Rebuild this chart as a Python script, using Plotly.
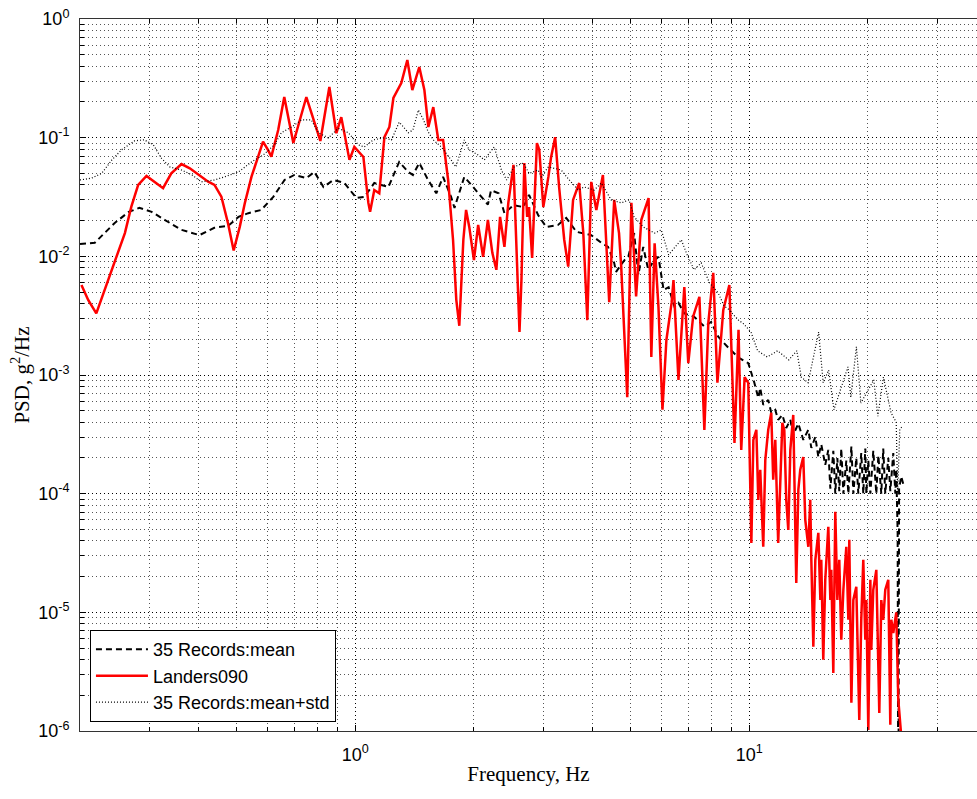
import numpy as np
import plotly.graph_objects as go

# ---- 35-record ensemble: mean PSD ----
mean_freq = [0.200, 0.218, 0.245, 0.266, 0.283, 0.304, 0.328, 0.362, 0.402, 0.4385,
             0.476, 0.505, 0.535, 0.577, 0.619, 0.661, 0.700, 0.751, 0.787, 0.830,
             0.880, 0.938, 1.006, 1.054, 1.117, 1.213, 1.292, 1.363, 1.400, 1.453,
             1.530, 1.605, 1.670, 1.750, 1.785, 1.890, 1.990, 2.090, 2.170, 2.210,
             2.310, 2.390, 2.520, 2.670, 2.760, 2.910, 3.050, 3.270, 3.430, 3.640,
             3.970, 4.210, 4.380, 4.540, 4.590, 4.820, 4.930, 5.100, 5.230, 5.380,
             5.540, 5.700, 5.880, 6.060, 6.240, 6.460, 6.610, 6.840, 7.240, 7.690,
             8.000, 8.340, 8.840, 9.390, 9.940, 10.30, 10.54, 10.66, 10.85, 11.17,
             11.37, 11.64, 11.84, 12.13, 12.41, 12.71, 12.93, 13.32, 13.71, 14.12,
             14.37, 14.71, 14.97, 15.23, 15.59, 15.87, 16.06, 16.34, 16.53, 16.73,
             16.92, 17.12, 17.33, 17.63, 17.84, 18.16, 18.37, 18.69, 18.91, 19.24,
             19.47, 19.70, 19.82, 20.05, 20.29, 20.64, 21.01, 21.26, 21.63, 21.88,
             22.14, 22.53, 22.80, 23.20, 23.48, 23.61, 23.80, 23.86, 23.93, 24.00,
             24.30, 24.60]
mean_psd = [1.27e-2, 1.30e-2, 1.91e-2, 2.37e-2, 2.56e-2, 2.37e-2, 2.03e-2, 1.67e-2, 1.51e-2, 1.74e-2,
            1.81e-2, 2.15e-2, 2.31e-2, 2.46e-2, 3.17e-2, 4.40e-2, 4.85e-2, 4.56e-2, 5.14e-2, 3.84e-2,
            4.40e-2, 4.15e-2, 3.10e-2, 3.17e-2, 4.15e-2, 3.84e-2, 6.24e-2, 5.14e-2, 4.85e-2, 6.12e-2,
            4.40e-2, 3.40e-2, 4.67e-2, 3.17e-2, 2.56e-2, 4.67e-2, 3.84e-2, 3.17e-2, 2.73e-2, 3.60e-2,
            3.40e-2, 2.31e-2, 2.70e-2, 2.60e-2, 3.30e-2, 2.23e-2, 1.77e-2, 1.84e-2, 2.11e-2, 1.61e-2,
            1.51e-2, 1.30e-2, 1.20e-2, 8.80e-3, 7.40e-3, 9.30e-3, 9.90e-3, 1.57e-2, 7.00e-3, 1.20e-2,
            7.70e-3, 9.00e-3, 9.90e-3, 5.20e-3, 5.50e-3, 3.75e-3, 4.05e-3, 3.30e-3, 3.10e-3, 2.56e-3,
            2.80e-3, 2.10e-3, 1.70e-3, 1.40e-3, 1.26e-3, 8.60e-4, 6.40e-4, 7.78e-4, 5.60e-4, 6.17e-4,
            4.80e-4, 5.08e-4, 4.19e-4, 4.61e-4, 3.58e-4, 4.19e-4, 3.13e-4, 3.90e-4, 2.84e-4, 3.45e-4,
            2.43e-4, 3.01e-4, 2.04e-4, 2.60e-4, 1.75e-4, 2.34e-4, 1.10e-4, 2.30e-4, 1.00e-4, 2.00e-4,
            1.05e-4, 2.40e-4, 1.00e-4, 1.90e-4, 1.00e-4, 2.50e-4, 1.00e-4, 2.00e-4, 1.00e-4, 2.20e-4,
            1.00e-4, 2.40e-4, 1.00e-4, 1.90e-4, 1.00e-4, 2.30e-4, 1.00e-4, 2.10e-4, 1.00e-4, 2.40e-4,
            1.00e-4, 2.00e-4, 1.05e-4, 2.20e-4, 1.00e-4, 1.60e-4, 4.60e-5, 8.00e-7, 8.00e-7, 1.10e-4,
            1.40e-4, 1.20e-4]

# ---- Landers 1992, component 090 ----
landers_freq = [0.2017, 0.2098, 0.220, 0.231, 0.245, 0.260, 0.270, 0.281, 0.295, 0.3095,
                0.325, 0.341, 0.362, 0.380, 0.3995, 0.423, 0.439, 0.457, 0.475, 0.491,
                0.509, 0.524, 0.545, 0.566, 0.583, 0.600, 0.612, 0.637, 0.660, 0.696,
                0.751, 0.815, 0.859, 0.895, 0.921, 0.966, 0.994, 1.048, 1.079, 1.090,
                1.117, 1.150, 1.185, 1.220, 1.249, 1.308, 1.355, 1.395, 1.453, 1.497,
                1.532, 1.577, 1.624, 1.670, 1.720, 1.770, 1.804, 1.836, 1.880, 1.910,
                1.946, 2.000, 2.050, 2.110, 2.170, 2.227, 2.280, 2.330, 2.390, 2.445,
                2.520, 2.560, 2.610, 2.640, 2.685, 2.730, 2.760, 2.810, 2.890, 2.930,
                3.000, 3.090, 3.140, 3.215, 3.290, 3.390, 3.470, 3.570, 3.700, 3.790,
                3.880, 3.970, 4.090, 4.250, 4.330, 4.410, 4.540, 4.670, 4.730, 4.900,
                5.020, 5.160, 5.320, 5.550, 5.640, 5.750, 5.880, 6.020, 6.160, 6.350,
                6.420, 6.610, 6.840, 7.000, 7.200, 7.470, 7.690, 7.870, 8.100, 8.300,
                8.590, 8.900, 9.170, 9.390, 9.540, 9.730, 9.940,
                10.12, 10.24, 10.42, 10.54, 10.66, 10.85, 10.98, 11.17, 11.37, 11.50,
                11.64, 11.84, 11.99, 12.13, 12.27, 12.41, 12.56, 12.71, 12.93, 13.09,
                13.16, 13.32, 13.47, 13.71, 13.87, 14.12, 14.28, 14.37, 14.54, 14.71,
                14.97, 15.15, 15.23, 15.41, 15.59, 15.87, 16.06, 16.15, 16.34, 16.53,
                16.73, 16.92, 17.12, 17.33, 17.63, 17.84, 17.94, 18.16, 18.37, 18.69,
                18.91, 19.02, 19.24, 19.47, 19.70, 19.82, 20.05, 20.29, 20.40, 20.64,
                21.01, 21.26, 21.38, 21.63, 21.88, 22.14, 22.53, 22.80, 22.93, 23.20,
                23.61, 23.89, 24.31]
landers_psd = [5.74e-3, 4.29e-3, 3.31e-3, 5.21e-3, 9.33e-3, 1.57e-2, 2.62e-2, 4.00e-2, 4.76e-2, 4.26e-2,
               3.75e-2, 5.01e-2, 5.99e-2, 5.52e-2, 4.85e-2, 4.26e-2, 4.00e-2, 3.18e-2, 1.90e-2, 1.12e-2,
               1.78e-2, 2.80e-2, 4.69e-2, 6.92e-2, 9.25e-2, 7.88e-2, 6.92e-2, 1.16e-1, 2.20e-1, 9.02e-2,
               2.20e-1, 9.38e-2, 2.67e-1, 1.09e-1, 1.49e-1, 6.50e-2, 8.35e-2, 6.88e-2, 2.82e-2, 2.37e-2,
               3.62e-2, 3.40e-2, 1.01e-1, 1.23e-1, 2.16e-1, 2.89e-1, 4.51e-1, 2.52e-1, 3.94e-1, 2.52e-1,
               1.23e-1, 1.81e-1, 9.57e-2, 9.57e-2, 4.40e-2, 1.38e-2, 4.30e-3, 2.60e-3, 1.38e-2, 2.46e-2,
               1.77e-2, 9.30e-3, 1.84e-2, 9.90e-3, 2.03e-2, 1.07e-2, 7.70e-3, 2.15e-2, 1.20e-2, 2.82e-2,
               5.90e-2, 1.38e-2, 2.30e-3, 6.30e-3, 6.12e-2, 2.15e-2, 2.60e-2, 9.70e-3, 9.00e-2, 7.90e-2,
               2.60e-2, 4.67e-2, 6.88e-2, 1.01e-1, 3.84e-2, 1.38e-2, 8.20e-3, 2.99e-2, 4.15e-2, 1.57e-2,
               2.90e-3, 4.24e-2, 2.46e-2, 4.85e-2, 1.38e-2, 4.10e-3, 2.99e-2, 1.57e-2, 8.20e-3, 6.50e-4,
               2.82e-2, 4.60e-3, 2.03e-2, 3.10e-2, 1.42e-3, 1.29e-2, 3.75e-3, 5.10e-4, 1.98e-3, 4.05e-3,
               6.30e-3, 9.10e-4, 5.50e-3, 1.26e-3, 3.10e-3, 4.55e-3, 3.45e-4, 2.75e-3, 7.25e-3, 8.60e-4,
               3.53e-3, 5.74e-3, 2.68e-4, 2.40e-3, 2.34e-4, 9.60e-4, 8.60e-4,
               3.85e-5, 2.84e-4, 3.45e-4, 8.87e-5, 1.59e-4, 3.57e-5, 1.93e-4, 3.45e-4, 4.80e-4, 1.31e-4,
               2.84e-4, 3.85e-5, 1.59e-4, 3.95e-4, 3.45e-4, 8.87e-5, 4.95e-5, 2.34e-4, 4.61e-4, 6.02e-5,
               1.77e-5, 1.08e-4, 1.59e-4, 2.04e-4, 6.02e-5, 3.57e-5, 8.87e-5, 2.77e-5, 5.12e-6, 2.77e-5,
               4.67e-5, 1.27e-5, 2.77e-5, 3.98e-6, 1.88e-5, 5.25e-5, 1.27e-5, 2.28e-5, 3.09e-6, 7.03e-5,
               1.27e-5, 2.77e-5, 5.87e-6, 1.55e-5, 3.57e-5, 8.65e-6, 4.08e-5, 1.73e-6, 1.27e-5, 1.64e-5,
               3.98e-6, 1.24e-6, 8.65e-6, 2.77e-5, 5.87e-6, 1.27e-5, 1.02e-6, 1.88e-5, 4.83e-6, 1.55e-5,
               2.28e-5, 2.70e-6, 1.42e-6, 1.27e-5, 8.65e-6, 1.55e-5, 1.88e-5, 1.13e-6, 8.65e-6, 6.70e-6,
               1.00e-5, 1.83e-6, 9.00e-7]

# ---- 35-record ensemble: mean + one standard deviation ----
std_freq = [0.200, 0.214, 0.227, 0.241, 0.255, 0.275, 0.291, 0.307, 0.322, 0.338,
            0.362, 0.385, 0.4065, 0.4385, 0.465, 0.505, 0.545, 0.584, 0.623, 0.649,
            0.689, 0.7295, 0.773, 0.806, 0.854, 0.905, 0.960, 1.018, 1.054, 1.110,
            1.185, 1.235, 1.292, 1.363, 1.400, 1.445, 1.490, 1.530, 1.577, 1.653,
            1.750, 1.800, 1.890, 1.946, 2.050, 2.125, 2.250, 2.350, 2.420, 2.530,
            2.670, 2.760, 2.910, 2.965, 3.090, 3.330, 3.490, 3.680, 3.810, 4.040,
            4.210, 4.460, 4.730, 4.950, 5.100, 5.380, 5.750, 5.980, 6.240, 6.720,
            6.920, 7.240, 7.550, 7.920, 8.340, 8.640, 8.840, 9.390, 9.670, 10.10,
            10.50, 11.10, 11.80, 12.60, 13.20, 13.55, 14.10, 14.50, 15.00, 15.40,
            15.90, 16.40, 17.10, 17.80, 18.10, 18.70, 19.20, 20.00, 20.70, 21.20,
            21.90, 22.90, 23.60, 23.80, 24.10, 24.50]
std_psd = [4.40e-2, 4.56e-2, 5.00e-2, 6.50e-2, 7.90e-2, 9.40e-2, 9.60e-2, 8.70e-2, 6.70e-2, 5.67e-2,
           5.34e-2, 4.85e-2, 4.24e-2, 4.40e-2, 4.67e-2, 5.14e-2, 6.24e-2, 7.16e-2, 8.70e-2, 1.10e-1,
           1.23e-1, 1.41e-1, 1.41e-1, 1.10e-1, 9.95e-2, 1.20e-1, 1.10e-1, 8.70e-2, 8.35e-2, 9.57e-2,
           1.00e-1, 9.57e-2, 1.35e-1, 1.10e-1, 1.16e-1, 1.71e-1, 1.41e-1, 1.12e-1, 9.57e-2, 8.35e-2,
           6.50e-2, 5.67e-2, 9.57e-2, 7.87e-2, 7.16e-2, 6.50e-2, 8.35e-2, 5.30e-2, 4.40e-2, 5.67e-2,
           6.12e-2, 5.00e-2, 5.34e-2, 4.67e-2, 5.67e-2, 5.34e-2, 4.40e-2, 3.62e-2, 3.84e-2, 3.62e-2,
           4.15e-2, 2.99e-2, 2.82e-2, 2.99e-2, 2.15e-2, 1.77e-2, 1.57e-2, 1.67e-2, 1.03e-2, 1.38e-2,
           1.07e-2, 7.70e-3, 8.80e-3, 6.00e-3, 4.90e-3, 3.80e-3, 3.60e-3, 2.90e-3, 2.70e-3, 2.30e-3,
           1.60e-3, 1.42e-3, 1.60e-3, 1.34e-3, 1.60e-3, 9.60e-4, 8.60e-4, 1.34e-3, 2.30e-3, 8.60e-4,
           1.10e-3, 5.10e-4, 7.90e-4, 1.17e-3, 6.50e-4, 1.73e-3, 5.80e-4, 7.50e-4, 9.10e-4, 4.50e-4,
           9.60e-4, 4.80e-4, 4.00e-4, 1.00e-4, 3.50e-4, 3.70e-4]

# ---- axis ticks ----
y_major = [10.0 ** k for k in range(-6, 1)]
y_major_text = ["10<sup>%d</sup>" % k for k in range(-6, 1)]
x_major = [1.0, 10.0]
x_major_text = ["10<sup>0</sup>", "10<sup>1</sup>"]
x_minor = [m * 10.0 ** k for k in range(-1, 2) for m in range(2, 10)]
y_minor = [m * 10.0 ** k for k in range(-6, 0) for m in range(2, 10)]

sans = "Liberation Sans, Arial, sans-serif"
serif = "Liberation Serif, Times New Roman, serif"

fig = go.Figure()
fig.add_trace(go.Scatter(x=mean_freq, y=mean_psd, mode="lines", name="35 Records:mean",
                         line=dict(color="black", width=2, dash="6px,4px")))
fig.add_trace(go.Scatter(x=landers_freq, y=landers_psd, mode="lines", name="Landers090",
                         line=dict(color="#ff0000", width=2.5)))
fig.add_trace(go.Scatter(x=std_freq, y=std_psd, mode="lines", name="35 Records:mean+std",
                         line=dict(color="black", width=1.2, dash="1px,2px")))

grid_dash = "1px,3px"
fig.update_xaxes(
    type="log", range=[np.log10(0.2), 1.578],
    tickmode="array", tickvals=x_major, ticktext=x_major_text,
    ticks="inside", ticklen=6, tickcolor="black",
    showline=True, linecolor="#333333", linewidth=1, mirror="ticks",
    showgrid=True, gridcolor="black", gridwidth=1, griddash=grid_dash,
    minor=dict(tickmode="array", tickvals=x_minor, ticks="inside", ticklen=4,
               tickcolor="black", showgrid=True, gridcolor="#555555",
               gridwidth=1, griddash=grid_dash),
    tickfont=dict(family=sans, size=18, color="black"),
    ticklabelstandoff=7,
    title=dict(text="Frequency, Hz", font=dict(family=serif, size=21, color="black"),
               standoff=2),
    zeroline=False,
)
fig.update_yaxes(
    type="log", range=[-6, 0],
    tickmode="array", tickvals=y_major, ticktext=y_major_text,
    ticks="inside", ticklen=6, tickcolor="black",
    showline=True, linecolor="#333333", linewidth=1, mirror=False,
    showgrid=True, gridcolor="black", gridwidth=1, griddash=grid_dash,
    minor=dict(tickmode="array", tickvals=y_minor, ticks="inside", ticklen=4,
               tickcolor="black", showgrid=True, gridcolor="#555555",
               gridwidth=1, griddash=grid_dash),
    tickfont=dict(family=sans, size=18, color="black"),
    ticklabelstandoff=6,
    title=dict(text="PSD, g<sup>2</sup>/Hz", font=dict(family=serif, size=21, color="black"),
               standoff=2),
    zeroline=False,
)

fig.update_layout(
    width=977, height=799,
    margin=dict(l=80, r=0, t=19, b=68, pad=0),
    paper_bgcolor="white", plot_bgcolor="white",
    showlegend=True,
    legend=dict(x=0.0111, y=0.0126, xanchor="left", yanchor="bottom",
                bgcolor="white", bordercolor="black", borderwidth=1,
                font=dict(family=sans, size=18, color="black"),
                itemwidth=52, tracegroupgap=0),
)

fig.write_html("out.html")
